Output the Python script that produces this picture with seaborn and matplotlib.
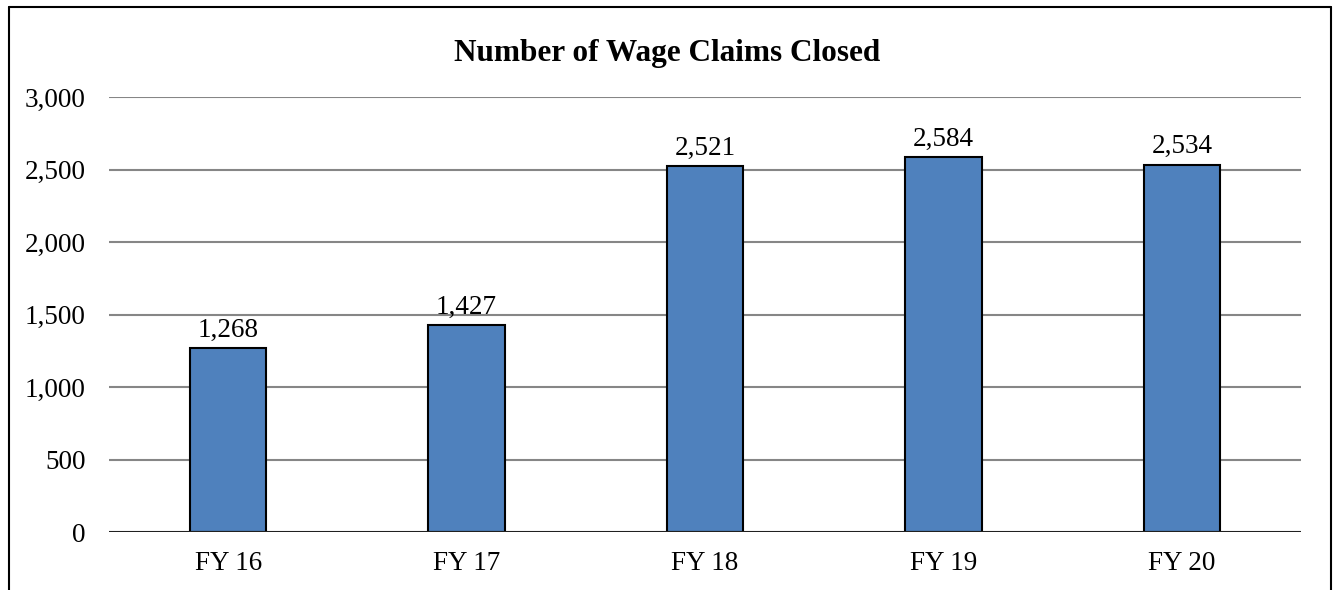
import seaborn as sns
import pandas as pd
import matplotlib.pyplot as plt
from matplotlib.lines import Line2D

# ---------------- DATA ----------------
years = ["FY 16", "FY 17", "FY 18", "FY 19", "FY 20"]
claims_closed = [1268, 1427, 2521, 2584, 2534]
y_ticks = [0, 500, 1000, 1500, 2000, 2500, 3000]

df = pd.DataFrame({"year": years, "claims": claims_closed})

# ---------------- STYLE ----------------
sns.set_theme(style="white")
plt.rcParams["font.family"] = ["Liberation Serif", "DejaVu Serif"]
plt.rcParams["text.color"] = "black"
plt.rcParams["xtick.color"] = "black"
plt.rcParams["ytick.color"] = "black"

fig = plt.figure(figsize=(13.35, 5.9), dpi=100)
ax = fig.add_axes([109 / 1335, 58 / 590, 1192 / 1335, 435 / 590])

sns.barplot(data=df, x="year", y="claims", color="#4F81BD", saturation=1,
            edgecolor="black", linewidth=1.5, width=0.32, ax=ax, zorder=3)

ax.set_ylim(0, 3000)
ax.set_xlim(-0.5, 4.5)
ax.set_yticks(y_ticks)
ax.set_yticklabels([f"{v:,}" for v in y_ticks], fontsize=19.5)
ax.tick_params(axis="x", labelsize=19.5, pad=14)
ax.tick_params(axis="y", pad=17)
ax.tick_params(length=0)
ax.set_xlabel("")
ax.set_ylabel("")

for v in y_ticks[1:]:
    ax.axhline(v, color="#868686", linewidth=1.5, zorder=1)
ax.axhline(0, color="#202020", linewidth=1.5, zorder=4)

for s in ["top", "right", "left", "bottom"]:
    ax.spines[s].set_visible(False)

# value labels
for i, v in enumerate(claims_closed):
    ax.annotate(f"{v:,}", (i, v), xytext=(0, 4), textcoords="offset points",
                ha="center", va="bottom", fontsize=19.5)

fig.text(0.5, 537 / 590, "Number of Wage Claims Closed", ha="center",
         va="center", fontsize=22.5, fontweight="bold")

# outer frame (left, top, right)
x0, x1, yt = 8.5 / 1335, 1331 / 1335, 583 / 590
for xs, ys in [([x0, x0], [0, yt]), ([x0, x1], [yt, yt]), ([x1, x1], [yt, 0])]:
    fig.add_artist(Line2D(xs, ys, color="black", linewidth=1.5,
                          transform=fig.transFigure))

fig.savefig("out.png", dpi=100)
